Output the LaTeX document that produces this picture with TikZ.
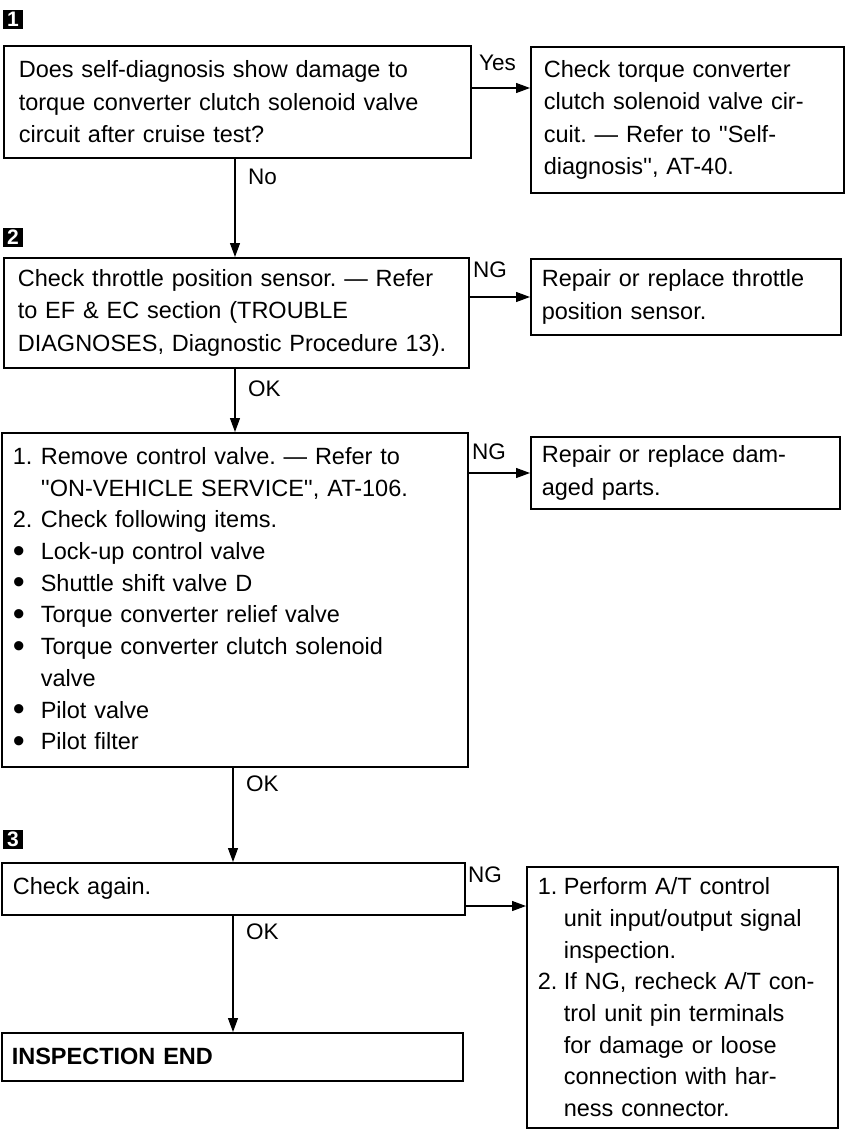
\documentclass[tikz,border=0pt]{standalone}
\usepackage{fontspec}
\setmainfont{Liberation Sans}[Ligatures=TeXOff]
\usetikzlibrary{arrows.meta}
\frenchspacing
\newcommand\boxfont{\fontsize{23.5}{32.5}\selectfont}
\newcommand\listfont{\fontsize{23.5}{31.7}\selectfont}
\newcommand\labfont{\fontsize{22.5}{27}\selectfont}
\newcommand\markfont{\fontsize{21}{21}\selectfont\bfseries}
\newcommand\ind[1]{\makebox[#1][l]{}}
\newcommand\bul{\makebox[28pt][l]{\raisebox{-0.2ex}{\scalebox{1.45}{•}}}}
\begin{document}
\begin{tikzpicture}[x=1pt,y=-1pt,
  box/.style={draw=black, line width=1.6pt, rectangle, anchor=north west,
    align=left, inner ysep=0pt},
  lab/.style={anchor=west, inner sep=0pt, font=\labfont},
  conn/.style={line width=1.2pt, -{Triangle[length=14pt,width=10pt]}},
  marker/.style={fill=black, text=white, font=\markfont, inner sep=0pt,
    minimum width=20pt, minimum height=19pt}
]
\useasboundingbox (0,0) rectangle (845,1138);

% step markers
\node[marker] (m1) at (13,19) {1};
\node[marker] (m2) at (13,237) {2};
\node[marker] (m3) at (13,839) {3};

% boxes
\node[box, font=\boxfont, minimum width=467pt, minimum height=112pt,
  inner xsep=15pt, text width=437pt] (A) at (3,45)
  {Does self-diagnosis show damage to\\
   torque converter clutch solenoid valve\\
   circuit after cruise test?};

\node[box, font=\boxfont, minimum width=313pt, minimum height=146pt,
  inner xsep=13pt, text width=287pt] (B) at (530,46)
  {Check torque converter\\
   clutch solenoid valve cir-\\
   cuit. — Refer to ''Self-\\
   diagnosis'', AT-40.};

\node[box, font=\boxfont, minimum width=465pt, minimum height=110pt,
  inner xsep=14pt, text width=437pt] (C) at (3,257)
  {Check throttle position sensor. — Refer\\
   to EF \& EC section (TROUBLE\\
   DIAGNOSES, Diagnostic Procedure 13).};

\node[box, font=\boxfont, minimum width=310pt, minimum height=76pt,
  inner xsep=11pt, text width=288pt] (D) at (530,258)
  {Repair or replace throttle\\
   position sensor.};

\node[box, font=\listfont, minimum width=466pt, minimum height=334pt,
  inner xsep=11pt, text width=444pt] (E) at (1,432)
  {\makebox[28pt][l]{1.}Remove control valve. — Refer to\\
   \ind{28pt}''ON-VEHICLE SERVICE'', AT-106.\\
   \makebox[28pt][l]{2.}Check following items.\\
   \bul Lock-up control valve\\
   \bul Shuttle shift valve D\\
   \bul Torque converter relief valve\\
   \bul Torque converter clutch solenoid\\
   \ind{28pt}valve\\
   \bul Pilot valve\\
   \bul Pilot filter};

\node[box, font=\boxfont, minimum width=309pt, minimum height=72pt,
  inner xsep=11pt, text width=287pt] (F) at (530,436)
  {Repair or replace dam-\\
   aged parts.};

\node[box, font=\boxfont, minimum width=463pt, minimum height=52pt,
  inner xsep=11pt, text width=441pt] (G) at (1,862)
  {Check again.};

\node[box, font=\listfont, minimum width=311pt, minimum height=261pt,
  inner xsep=11pt, text width=289pt] (H) at (526,866)
  {\makebox[26pt][l]{1.}Perform A/T control\\
   \ind{26pt}unit input/output signal\\
   \ind{26pt}inspection.\\
   \makebox[26pt][l]{2.}If NG, recheck A/T con-\\
   \ind{26pt}trol unit pin terminals\\
   \ind{26pt}for damage or loose\\
   \ind{26pt}connection with har-\\
   \ind{26pt}ness connector.};

\node[box, font=\boxfont\bfseries, minimum width=461pt, minimum height=48pt,
  inner xsep=10pt, text width=441pt] (I) at (1,1032)
  {INSPECTION END};

% connector levels
\coordinate (hYes) at (0,88);
\coordinate (hNG1) at (0,297);
\coordinate (hNG2) at (0,473);
\coordinate (hNG3) at (0,906);
\coordinate (vUp) at (235,0);
\coordinate (vLow) at (233,0);

% connectors
\draw[conn] (A.east |- hYes) -- (B.west |- hYes);
\draw[conn] (C.east |- hNG1) -- (D.west |- hNG1);
\draw[conn] (E.east |- hNG2) -- (F.west |- hNG2);
\draw[conn] (G.east |- hNG3) -- (H.west |- hNG3);
\draw[conn] (A.south -| vUp) -- (C.north -| vUp);
\draw[conn] (C.south -| vUp) -- (E.north -| vUp);
\draw[conn] (E.south -| vLow) -- (G.north -| vLow);
\draw[conn] (G.south -| vLow) -- (I.north -| vLow);

% labels
\node[lab] (lYes) at (479,63) {Yes};
\node[lab] (lNG1) at (473,270) {NG};
\node[lab] (lNG2) at (472,452) {NG};
\node[lab] (lNG3) at (468,875) {NG};
\node[lab] (lNo) at (248,177) {No};
\node[lab] (lOK1) at (248,389) {OK};
\node[lab] (lOK2) at (246,784) {OK};
\node[lab] (lOK3) at (246,932) {OK};
\end{tikzpicture}
\end{document}
